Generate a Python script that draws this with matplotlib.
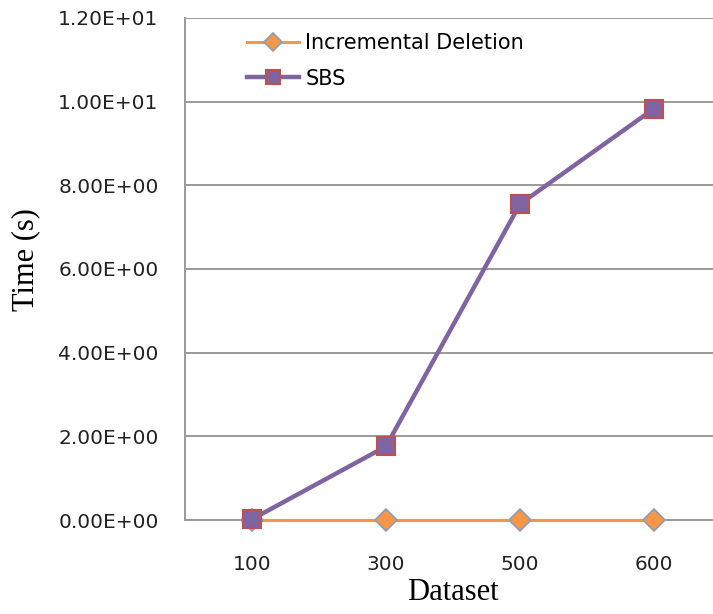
import matplotlib
matplotlib.use("Agg")
import matplotlib.pyplot as plt
from matplotlib.ticker import FuncFormatter

datasets = ["100", "300", "500", "600"]
incremental_deletion = [0.0, 0.0, 0.0, 0.0]
sbs = [0.02, 1.76, 7.55, 9.83]

orange = "#F79646"
purple = "#8064A2"

fig = plt.figure(figsize=(7.13, 6.14), dpi=100)
ax = fig.add_axes([0.2595, 0.153, 0.7517, 0.818])

x = range(len(datasets))
ax.plot(x, incremental_deletion, color=orange, lw=2.2, marker="D", ms=11,
        mfc=orange, mec="#8C9DB5", mew=1.2, label="Incremental Deletion",
        zorder=3, clip_on=False)
ax.plot(x, sbs, color=purple, lw=3.2, marker="s", ms=13,
        mfc=purple, mec="#C0504D", mew=1.5, label="SBS",
        zorder=4, clip_on=False)

ax.set_xlim(-0.5, len(datasets) - 0.5)
ax.set_ylim(0, 12)
ax.set_yticks([0, 2, 4, 6, 8, 10, 12])
ax.yaxis.set_major_formatter(FuncFormatter(lambda v, p: "%.2E" % v))
ax.set_xticks(list(x))
ax.set_xticklabels(datasets)
ax.grid(axis="y", color="#9a9a9a", lw=1.4)
ax.set_axisbelow(True)
for side in ["top", "right"]:
    ax.spines[side].set_visible(False)
for side in ["left", "bottom"]:
    ax.spines[side].set_color("#9a9a9a")
    ax.spines[side].set_linewidth(1.4)
ax.tick_params(length=0, labelsize=14.5, labelcolor="#222222")
ax.tick_params(axis="y", pad=19)
ax.tick_params(axis="x", pad=25)

ax.set_ylabel("Time (s)", family="Liberation Serif", fontsize=22, labelpad=13)
ax.yaxis.label.set_y(0.518)
ax.set_xlabel("Dataset", family="Liberation Serif", fontsize=22, labelpad=3)

fig.legend(*ax.get_legend_handles_labels(), loc="upper left",
           bbox_to_anchor=(247 / 713, 1 - 33 / 614), frameon=False,
           fontsize=15, handlelength=2.5, labelspacing=0.75, handletextpad=0.3,
           borderpad=0, borderaxespad=0, markerscale=0.8)

fig.savefig("out.png", dpi=100)
